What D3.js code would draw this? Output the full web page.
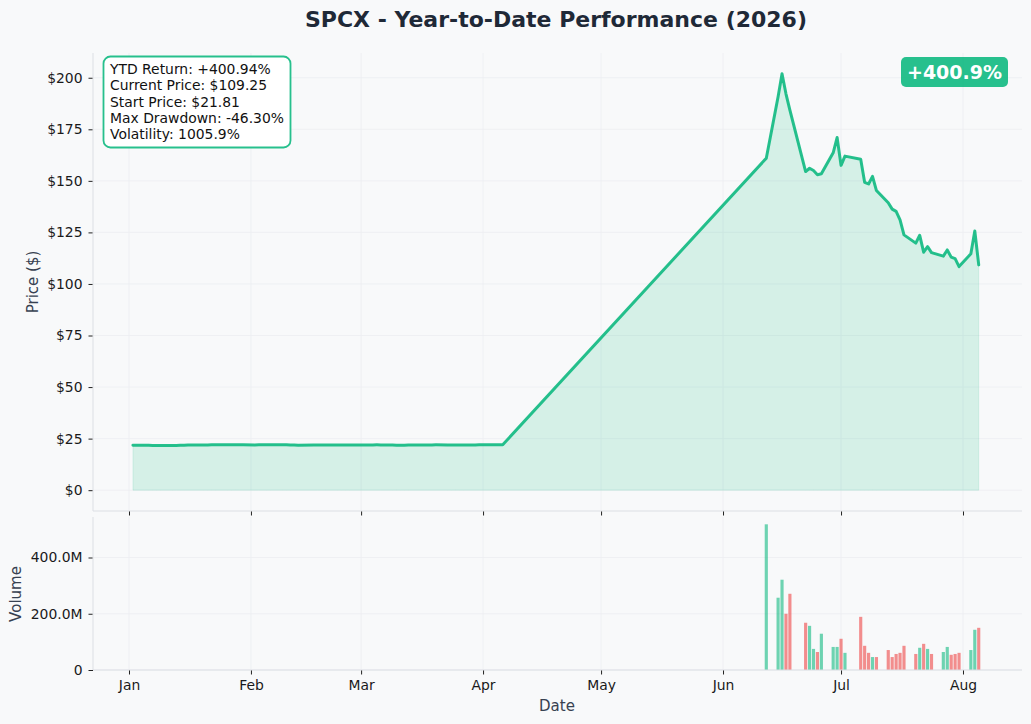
<!DOCTYPE html>
<html>
<head>
<meta charset="utf-8">
<script src="https://cdn.jsdelivr.net/npm/d3@7"></script>
<style>
  html, body { margin: 0; padding: 0; background: #f8f9fa; }
  svg { display: block; font-family: "DejaVu Sans", sans-serif; }
</style>
</head>
<body>
<svg id="chart" width="1031" height="724"></svg>
<script>
// ---------------- DATA ----------------
const ticker = "SPCX";
const year = 2026;
const title = "SPCX - Year-to-Date Performance (2026)";

// Trading days (MM-DD) and closing prices
const dates = [
  "01-02","01-05","01-06","01-07","01-08","01-09","01-12","01-13","01-14","01-15","01-16",
  "01-20","01-21","01-22","01-23","01-26","01-27","01-28","01-29","01-30",
  "02-02","02-03","02-04","02-05","02-06","02-09","02-10","02-11","02-12","02-13",
  "02-17","02-18","02-19","02-20","02-23","02-24","02-25","02-26","02-27",
  "03-02","03-03","03-04","03-05","03-06","03-09","03-10","03-11","03-12","03-13",
  "03-16","03-17","03-18","03-19","03-20","03-23","03-24","03-25","03-26","03-27","03-30","03-31",
  "04-01","04-02","04-06",
  "06-12","06-15","06-16","06-17","06-18","06-22","06-23","06-24","06-25","06-26",
  "06-29","06-30","07-01","07-02","07-06","07-07","07-08","07-09","07-10",
  "07-13","07-14","07-15","07-16","07-17","07-20","07-21","07-22","07-23","07-24",
  "07-27","07-28","07-29","07-30","07-31","08-03","08-04","08-05"
];
const closes = [
  21.81,21.78,21.74,21.70,21.66,21.63,21.65,21.70,21.76,21.82,21.88,
  21.92,21.95,21.97,21.98,22.00,22.02,22.01,21.99,21.97,
  21.95,21.97,22.02,22.06,22.08,22.05,21.98,21.90,21.86,21.84,
  21.85,21.88,21.90,21.92,21.93,21.92,21.90,21.88,21.90,
  21.92,21.94,21.96,21.97,21.95,21.90,21.84,21.80,21.82,21.86,
  21.90,21.93,21.95,21.96,21.97,21.96,21.94,21.93,21.94,21.95,21.96,21.97,
  21.98,21.99,22.00,
  161.0,190.8,201.9,192.2,184.3,154.5,156.1,155.0,153.0,153.4,
  163.6,171.0,157.5,162.0,160.5,149.3,148.5,152.2,145.3,
  139.4,136.3,135.2,131.1,123.8,119.8,123.6,115.4,118.1,115.2,
  113.5,116.5,113.0,112.3,108.42,114.6,125.7,109.25
];
// Volume in millions (0 = none reported)
const volumesM = [
  0,0,0,0,0,0,0,0,0,0,0, 0,0,0,0,0,0,0,0,0,
  0,0,0,0,0,0,0,0,0,0, 0,0,0,0,0,0,0,0,0,
  0,0,0,0,0,0,0,0,0,0, 0,0,0,0,0,0,0,0,0,0,0,0,
  0,0,0,
  518,257,321,200,271,168,157,75,64,129,
  82,82,111,61,189,86,61,46,46,
  71,46,57,61,86,57,79,93,75,57,
  64,82,54,57,61,71,143,150
];
// 1 = up day (close >= open), 0 = down day
const upDay = [
  1,1,1,1,1,1,1,1,1,1,1, 1,1,1,1,1,1,1,1,1,
  1,1,1,1,1,1,1,1,1,1, 1,1,1,1,1,1,1,1,1,
  1,1,1,1,1,1,1,1,1,1, 1,1,1,1,1,1,1,1,1,1,1,1,
  1,1,1,
  1,1,1,0,0,0,1,1,0,1,
  1,1,0,1,0,0,0,1,0,
  0,0,0,0,0,0,1,0,1,0,
  1,1,0,0,0,1,1,0
];
const monthTicks = ["Jan","Feb","Mar","Apr","May","Jun","Jul","Aug"];
const priceTicks = [0,25,50,75,100,125,150,175,200];
const volumeTicks = [0,200,400];
const statsLines = [
  "YTD Return: +400.94%",
  "Current Price: $109.25",
  "Start Price: $21.81",
  "Max Drawdown: -46.30%",
  "Volatility: 1005.9%"
];
const badgeText = "+400.9%";

// ---------------- SETUP ----------------
const parse = d3.timeParse("%Y-%m-%d");
const data = dates.map((d, i) => ({
  date: parse(year + "-" + d),
  close: closes[i],
  vol: volumesM[i] * 1e6,
  up: upDay[i] === 1
}));

const svg = d3.select("#chart");
const W = 1031, H = 724;
const left = 93, right = 1022;
const pTop = 53, pBot = 511;
const vTop = 517, vBot = 670;

const green = "#10b981", red = "#ef4444";
const spineColor = "#dcdfe4", gridColor = "#eceef1";

const dayMs = 864e5;
const x = d3.scaleTime()
  .domain([new Date(+new Date(year,0,1) - 9.15*dayMs), new Date(+new Date(year,0,1) + 227*dayMs)])
  .range([left, right]);

const yP = d3.scaleLinear().domain([-10.1, 212.0]).range([pBot, pTop]);
const yV = d3.scaleLinear().domain([0, 544e6]).range([vBot, vTop]);

svg.append("rect").attr("width", W).attr("height", H).attr("fill", "#f8f9fa");

const monthDates = monthTicks.map((m, i) => new Date(year, i, 1));

// gridlines
function grid(g, yScale, yTicks, top, bot) {
  g.selectAll(".gx").data(monthDates).join("line")
    .attr("x1", d => x(d)).attr("x2", d => x(d))
    .attr("y1", top).attr("y2", bot)
    .attr("stroke", gridColor).attr("stroke-width", 0.8);
  g.selectAll(".gy").data(yTicks).join("line")
    .attr("class","gy")
    .attr("x1", left).attr("x2", right)
    .attr("y1", d => yScale(d)).attr("y2", d => yScale(d))
    .attr("stroke", gridColor).attr("stroke-width", 0.8);
}
grid(svg.append("g"), yP, priceTicks, pTop, pBot);
grid(svg.append("g"), yV, volumeTicks.map(v => v*1e6), vTop, vBot);

// ---------------- PRICE PANEL ----------------
const area = d3.area().x(d => x(d.date)).y0(yP(0)).y1(d => yP(d.close));
svg.append("path").datum(data).attr("d", area)
  .attr("fill", green).attr("fill-opacity", 0.15)
  .attr("stroke", green).attr("stroke-opacity", 0.12).attr("stroke-width", 1);

const line = d3.line().x(d => x(d.date)).y(d => yP(d.close));
svg.append("path").datum(data).attr("d", line)
  .attr("fill", "none").attr("stroke", green).attr("stroke-opacity", 0.9)
  .attr("stroke-width", 3).attr("stroke-linejoin", "round").attr("stroke-linecap", "round");

// axes for price
const gPy = svg.append("g").attr("transform", `translate(${left},0)`)
  .call(d3.axisLeft(yP).tickValues(priceTicks).tickFormat(d => "$" + d).tickSize(4.5).tickPadding(6));
const gPx = svg.append("g").attr("transform", `translate(0,${pBot})`)
  .call(d3.axisBottom(x).tickValues(monthDates).tickFormat("").tickSize(4.5));

// ---------------- VOLUME PANEL ----------------
const barW = x(new Date(year,5,2)) - x(new Date(year,5,1));
svg.append("g").selectAll("rect").data(data.filter(d => d.vol > 0)).join("rect")
  .attr("x", d => x(d.date) - barW*0.4)
  .attr("width", barW*0.8)
  .attr("y", d => yV(d.vol))
  .attr("height", d => yV(0) - yV(d.vol))
  .attr("fill", d => d.up ? green : red)
  .attr("fill-opacity", 0.6);

const gVy = svg.append("g").attr("transform", `translate(${left},0)`)
  .call(d3.axisLeft(yV).tickValues(volumeTicks.map(v => v*1e6))
    .tickFormat(d => d === 0 ? "0" : (d/1e6).toFixed(1) + "M").tickSize(4.5).tickPadding(6));
const gVx = svg.append("g").attr("transform", `translate(0,${vBot})`)
  .call(d3.axisBottom(x).tickValues(monthDates).tickFormat((d,i) => monthTicks[i]).tickSize(4.5).tickPadding(6));

// axis styling
[gPy, gPx, gVy, gVx].forEach(g => {
  g.select(".domain").remove();
  g.selectAll(".tick line").attr("stroke", "#222").attr("stroke-width", 1);
  g.selectAll(".tick text").attr("font-size", 13.9).attr("fill", "#1a1a1a")
    .attr("font-family", "DejaVu Sans, sans-serif");
});

// spines (left + bottom)
[[pTop, pBot], [vTop, vBot]].forEach(([t, b]) => {
  svg.append("line").attr("x1", left).attr("x2", left).attr("y1", t).attr("y2", b)
    .attr("stroke", spineColor).attr("stroke-width", 1);
  svg.append("line").attr("x1", left).attr("x2", right).attr("y1", b).attr("y2", b)
    .attr("stroke", spineColor).attr("stroke-width", 1);
});

// ---------------- LABELS ----------------
svg.append("text").attr("x", 556).attr("y", 27).attr("text-anchor", "middle")
  .attr("font-size", 22).attr("font-weight", "bold").attr("fill", "#1f2937").text(title);

svg.append("text").attr("transform", "translate(38,282) rotate(-90)").attr("text-anchor", "middle")
  .attr("font-size", 15).attr("fill", "#374151").text("Price ($)");
svg.append("text").attr("transform", "translate(21,594) rotate(-90)").attr("text-anchor", "middle")
  .attr("font-size", 15).attr("fill", "#374151").text("Volume");
svg.append("text").attr("x", 557).attr("y", 711).attr("text-anchor", "middle")
  .attr("font-size", 15).attr("fill", "#374151").text("Date");

// stats box
const sb = svg.append("g");
sb.append("rect").attr("x", 103.5).attr("y", 56.5).attr("width", 187).attr("height", 91)
  .attr("rx", 7).attr("fill", "#ffffff").attr("stroke", green).attr("stroke-opacity", 0.9).attr("stroke-width", 1.8);
sb.selectAll("text").data(statsLines).join("text")
  .attr("x", 110).attr("y", (d, i) => 74 + i * 16.3)
  .attr("font-size", 13.9).attr("fill", "#111").text(d => d);

// badge
const bg = svg.append("g");
bg.append("rect").attr("x", 901).attr("y", 57).attr("width", 107).attr("height", 30)
  .attr("rx", 5).attr("fill", green).attr("fill-opacity", 0.9);
bg.append("text").attr("x", 954.5).attr("y", 79).attr("text-anchor", "middle")
  .attr("font-size", 19).attr("font-weight", "bold").attr("fill", "#ffffff").text(badgeText);
</script>
</body>
</html>
